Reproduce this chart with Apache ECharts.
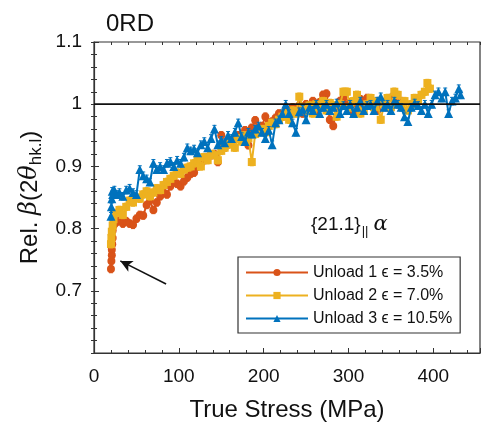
<!DOCTYPE html>
<html>
<head>
<meta charset="utf-8">
<script src="https://cdn.jsdelivr.net/npm/echarts@6/dist/echarts.min.js"></script>
<style>
  html, body { margin: 0; padding: 0; background: #fff; }
  #chart { width: 483px; height: 427px; }
</style>
</head>
<body>
<div id="chart"></div>
<script>
// Unload 1, eps = 3.5%
var stress1 = [20, 20.5, 21, 21, 21.5, 22, 22, 23, 26, 30, 34, 38, 42, 46, 50, 54, 58, 62, 66, 70,
  74, 78, 82, 86, 90, 94, 98, 102, 106, 110, 114, 118, 122, 126, 130, 134, 138, 142, 146, 150,
  154, 158, 162, 166, 170, 174, 178, 182, 186, 190, 194, 198, 202, 206, 210, 214, 218, 222, 226, 230,
  234, 238, 242, 246, 250, 254, 258, 262, 266, 270, 274, 278, 282, 286, 290, 294, 298, 302, 306, 310,
  314, 318, 322, 326, 330, 334, 338, 342, 346, 350, 354, 358, 362];
var beta1 = [0.735, 0.748, 0.757, 0.766, 0.775, 0.785, 0.797, 0.805, 0.81, 0.815, 0.808, 0.812, 0.808, 0.806, 0.816, 0.822, 0.821, 0.838, 0.845, 0.83,
  0.842, 0.852, 0.858, 0.855, 0.868, 0.875, 0.872, 0.868, 0.876, 0.882, 0.888, 0.89, 0.9, 0.905, 0.91, 0.915, 0.918, 0.92, 0.907, 0.95,
  0.93, 0.935, 0.938, 0.945, 0.95, 0.948, 0.958, 0.934, 0.962, 0.974, 0.96, 0.965, 0.98, 0.97, 0.972, 0.978, 0.985, 0.98, 0.99, 0.982,
  0.995, 0.99, 0.998, 0.985, 1.0, 0.995, 1.005, 0.99, 1.003, 1.015, 1.017, 0.975, 0.965, 0.995, 1.005, 1.01, 0.998, 1.003, 0.985, 1.0,
  1.008, 0.995, 1.01, 0.998, 1.002, 0.99, 1.005, 1.0, 0.995, 1.01, 1.015, 1.0, 1.005];

// Unload 2, eps = 7.0%
var stress2 = [20, 20.5, 21, 22, 23, 26, 30, 34, 38, 42, 46, 50, 54, 58, 62, 66, 70, 74, 78, 82,
  86, 90, 94, 98, 102, 106, 110, 114, 118, 122, 126, 130, 134, 138, 142, 146, 150, 154, 158, 162,
  166, 170, 174, 178, 182, 186, 190, 194, 198, 202, 206, 210, 214, 218, 222, 226, 230, 234, 238, 242,
  246, 250, 254, 258, 262, 266, 270, 274, 278, 282, 286, 290, 294, 298, 302, 306, 310, 314, 318, 322,
  326, 330, 334, 338, 342, 346, 350, 354, 358, 362, 366, 370, 374, 378, 382, 386, 390, 393, 396];
var beta2 = [0.775, 0.785, 0.795, 0.805, 0.815, 0.825, 0.83, 0.822, 0.835, 0.845, 0.842, 0.85, 0.848, 0.855, 0.86, 0.852, 0.858, 0.865, 0.862, 0.87,
  0.875, 0.88, 0.885, 0.89, 0.888, 0.895, 0.898, 0.9, 0.905, 0.91, 0.9, 0.915, 0.91, 0.92, 0.918, 0.91, 0.925, 0.93, 0.935, 0.94,
  0.93, 0.945, 0.94, 0.95, 0.945, 0.907, 0.952, 0.958, 0.96, 0.955, 0.965, 0.97, 0.968, 0.975, 0.98, 0.985, 0.975, 0.99, 0.985, 1.012,
  0.995, 0.99, 0.998, 0.985, 1.0, 0.995, 1.005, 0.99, 1.002, 0.998, 0.98, 1.0, 1.02, 1.02, 0.995, 1.005, 1.015, 0.985, 0.99, 1.0,
  1.01, 0.995, 1.005, 0.975, 1.0, 1.01, 0.995, 1.02, 1.015, 1.0, 1.005, 0.99, 1.0, 1.01, 1.005, 1.015, 1.02, 1.034, 1.025];

// Unload 3, eps = 10.5%
var stress3 = [20, 20.5, 21, 21.5, 22, 24, 27, 30, 34, 38, 42, 46, 50, 54, 58, 62, 66, 70, 74, 78,
  82, 86, 90, 94, 98, 102, 106, 110, 114, 118, 122, 126, 130, 134, 138, 142, 146, 150, 154, 158,
  162, 166, 170, 174, 178, 182, 186, 190, 194, 198, 202, 206, 210, 214, 218, 222, 226, 230, 234, 238,
  242, 246, 250, 254, 258, 262, 266, 270, 274, 278, 282, 286, 290, 294, 298, 302, 306, 310, 314, 318,
  322, 326, 330, 334, 338, 342, 346, 350, 354, 358, 362, 366, 370, 374, 378, 382, 386, 390, 394, 398,
  402, 406, 410, 414, 418, 422, 426, 430, 432];
var beta3 = [0.82, 0.835, 0.848, 0.86, 0.855, 0.862, 0.855, 0.858, 0.852, 0.862, 0.865, 0.858, 0.855, 0.895, 0.885, 0.88, 0.875, 0.905, 0.895, 0.9,
  0.895, 0.905, 0.908, 0.9, 0.91, 0.905, 0.915, 0.93, 0.925, 0.928, 0.922, 0.935, 0.94, 0.93, 0.945, 0.96, 0.935, 0.942, 0.938, 0.95,
  0.945, 0.955, 0.97, 0.948, 0.94, 0.955, 0.952, 0.96, 0.965, 0.955, 0.945, 0.958, 0.935, 0.97, 0.975, 0.985, 1.0, 0.985, 0.97, 0.955,
  0.988, 0.992, 0.975, 0.995, 0.99, 1.0, 0.985, 0.995, 1.0, 0.99, 0.995, 1.002, 0.985, 0.998, 0.99, 1.0, 0.985, 0.995, 1.005, 0.99,
  0.998, 1.0, 0.99, 1.005, 1.012, 0.995, 1.0, 0.99, 1.005, 1.0, 0.995, 0.98, 0.972, 0.995, 1.002, 0.998, 0.99, 1.0, 0.985, 1.0,
  1.015, 1.02, 1.01, 1.02, 0.985, 1.005, 1.01, 1.025, 1.015];

var seriesNames = ['Unload 1 \u03f5 = 3.5%', 'Unload 2 \u03f5 = 7.0%', 'Unload 3 \u03f5 = 10.5%'];
var colors = ['#D95319', '#EDB120', '#0072BD'];
var symbols = ['circle', 'rect', 'triangle'];
var errHalf = [0.006, 0.006, 0.006];
var xTicks = [0, 100, 200, 300, 400];
var yTicks = [0.7, 0.8, 0.9, 1, 1.1];
var refValue = 1;
var arrowFrom = [85, 0.711];
var arrowTo = [31, 0.748];

var xMin = 0, xMax = 455, yMin = 0.6, yMax = 1.1;
var FONT = 'Liberation Sans, Arial, sans-serif';

var chart = echarts.init(document.getElementById('chart'), null, { renderer: 'canvas' });

function pairs(xs, ys) {
  return xs.map(function (x, i) { return [x, ys[i]]; });
}

function errSeries(xs, ys, err, color, z) {
  return {
    type: 'custom',
    silent: true,
    z: z,
    data: xs.map(function (x, i) { return [x, ys[i] - err, ys[i] + err]; }),
    encode: { x: 0, y: [1, 2] },
    renderItem: function (params, api) {
      var lo = api.coord([api.value(0), api.value(1)]);
      var hi = api.coord([api.value(0), api.value(2)]);
      var c = 2;
      var st = { stroke: color, lineWidth: 1 };
      return {
        type: 'group',
        children: [
          { type: 'line', shape: { x1: lo[0], y1: lo[1], x2: hi[0], y2: hi[1] }, style: st },
          { type: 'line', shape: { x1: lo[0] - c, y1: lo[1], x2: lo[0] + c, y2: lo[1] }, style: st },
          { type: 'line', shape: { x1: hi[0] - c, y1: hi[1], x2: hi[0] + c, y2: hi[1] }, style: st }
        ]
      };
    }
  };
}

function dataSeries(idx, xs, ys, z) {
  return {
    name: seriesNames[idx],
    type: 'line',
    z: z,
    data: pairs(xs, ys),
    symbol: symbols[idx],
    symbolSize: idx === 2 ? 9 : 8,
    showAllSymbol: true,
    lineStyle: { color: colors[idx], width: 2 },
    itemStyle: { color: colors[idx] },
    emphasis: { disabled: true }
  };
}

var minorAxisBase = {
  type: 'value', min: xMin, max: xMax, interval: 20,
  axisLine: { show: false }, splitLine: { show: false }, axisLabel: { show: false },
  axisTick: { show: true, inside: true, length: 3, lineStyle: { color: '#333' } }
};

var option = {
  animation: false,
  backgroundColor: '#fff',
  textStyle: { fontFamily: FONT },
  title: {
    text: '0RD', left: 101, top: 7,
    textStyle: { fontSize: 24, fontWeight: 'normal', color: '#111', fontFamily: FONT }
  },
  grid: {
    left: 94, right: 1, top: 42, bottom: 74,
    show: true, borderColor: '#333', borderWidth: 1.2, backgroundColor: 'transparent'
  },
  legend: {
    orient: 'vertical', left: 238, top: 257,
    data: seriesNames, selectedMode: false,
    itemWidth: 62, itemHeight: 9, itemGap: 6,
    padding: [7, 8, 6, 7],
    borderColor: '#333', borderWidth: 1.2, backgroundColor: '#fff',
    textStyle: { fontSize: 16, color: '#111', fontFamily: FONT, lineHeight: 17 }
  },
  xAxis: [
    {
      type: 'value', min: xMin, max: xMax, interval: 100,
      name: 'True Stress (MPa)', nameLocation: 'middle', nameGap: 45,
      nameTextStyle: { fontSize: 24, color: '#111', fontFamily: FONT },
      axisLine: { show: true, lineStyle: { color: '#333', width: 1.2 } },
      axisTick: { show: true, inside: true, length: 5, lineStyle: { color: '#333' } },
      splitLine: { show: false },
      axisLabel: {
        fontSize: 19, color: '#111', margin: 14, fontFamily: FONT,
        formatter: function (v) { return xTicks.indexOf(v) >= 0 ? String(v) : ''; }
      }
    },
    Object.assign({}, minorAxisBase, { position: 'bottom' }),
    Object.assign({}, minorAxisBase, { position: 'top' })
  ],
  yAxis: [
    {
      type: 'value', min: yMin, max: yMax, interval: 0.1,
      name: 'Rel. {i|\u03b2}(2{i|\u03b8}{s|hk.l})', nameLocation: 'middle', nameGap: 48, nameRotate: 90,
      nameTextStyle: {
        fontSize: 24, color: '#111', fontFamily: FONT,
        rich: {
          i: { fontSize: 24, fontStyle: 'italic', color: '#111', fontFamily: 'DejaVu Serif, serif' },
          s: { fontSize: 17, color: '#111', padding: [12, 0, 0, 0], fontFamily: FONT }
        }
      },
      axisLine: { show: true, lineStyle: { color: '#333', width: 1.2 } },
      axisTick: { show: true, inside: true, length: 5, lineStyle: { color: '#333' } },
      splitLine: { show: false },
      axisLabel: {
        fontSize: 19, color: '#111', margin: 12, fontFamily: FONT,
        formatter: function (v) {
          var r = Math.round(v * 10) / 10;
          return yTicks.indexOf(r) >= 0 ? String(r) : '';
        }
      }
    },
    {
      type: 'value', min: yMin, max: yMax, interval: 0.02, position: 'left',
      axisLine: { show: false }, splitLine: { show: false }, axisLabel: { show: false },
      axisTick: { show: true, inside: true, length: 3, lineStyle: { color: '#333' } }
    },
    {
      type: 'value', min: yMin, max: yMax, interval: 0.02, position: 'right',
      axisLine: { show: false }, splitLine: { show: false }, axisLabel: { show: false },
      axisTick: { show: true, inside: true, length: 3, lineStyle: { color: '#333' } }
    }
  ],
  graphic: [
    {
      type: 'text', left: 311, top: 214, z: 100,
      style: {
        text: '{21.1}{s|||}{g|\u03b1}',
        font: '19px ' + FONT, fill: '#111',
        rich: {
          s: { fontSize: 13, fill: '#111', padding: [14, 5, 0, 1] },
          g: { fontSize: 21, fontStyle: 'italic', fill: '#111', fontFamily: 'DejaVu Serif, serif' }
        }
      }
    }
  ],
  series: [
    Object.assign(dataSeries(0, stress1, beta1, 2), {
      markLine: {
        silent: true, symbol: ['none', 'arrow'], symbolSize: [9, 12],
        lineStyle: { color: '#111', width: 1.5, type: 'solid' },
        label: { show: false },
        data: [[{ coord: arrowFrom }, { coord: arrowTo }]]
      }
    }),
    errSeries(stress1, beta1, errHalf[0], colors[0], 3),
    dataSeries(1, stress2, beta2, 4),
    errSeries(stress2, beta2, errHalf[1], colors[1], 5),
    dataSeries(2, stress3, beta3, 6),
    errSeries(stress3, beta3, errHalf[2], colors[2], 7),
    {
      type: 'line', z: 9, silent: true, symbol: 'none',
      data: [[xMin, refValue], [xMax, refValue]],
      lineStyle: { color: '#111', width: 1.8 }
    }
  ]
};

chart.setOption(option);
</script>
</body>
</html>
